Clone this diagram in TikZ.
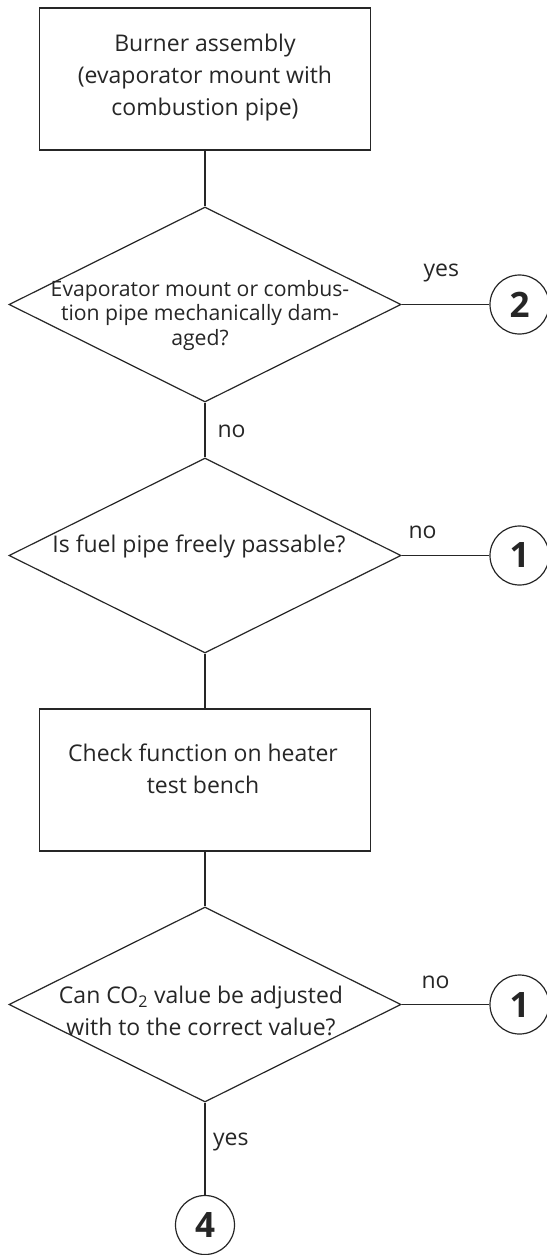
\documentclass[tikz,border=0pt]{standalone}
\usepackage{fontspec}
\setmainfont{Open Sans}
\usetikzlibrary{shapes.geometric}
\tikzset{
  stepbox/.style={draw, rectangle, minimum width=331pt, minimum height=142pt, inner sep=0pt},
  decision/.style={draw, diamond, minimum width=392pt, minimum height=195pt, inner sep=0pt},
  conn/.style={draw, circle, minimum size=59pt, inner sep=0pt, font=\fontsize{35}{35}\selectfont\bfseries},
  txt/.style={align=center, anchor=base, inner sep=0pt, font=\fontsize{23}{31.7}\selectfont},
  tighttxt/.style={txt, font=\fontsize{21.2}{24.2}\selectfont},
  lbl/.style={anchor=base west, inner sep=0pt, font=\fontsize{23}{23}\selectfont}
}
\begin{document}
\begin{tikzpicture}[x=1pt, y=-1pt, line width=1.2pt, color=black!85]
\useasboundingbox (0,0) rectangle (546,1255);
% boxes and decisions
\node[stepbox] (box1) at (205,79) {};
\node[txt] (box1t) at (205,115) {Burner assembly\\(evaporator mount with\\combustion pipe)};
\node[decision] (dec1) at (205,304.5) {};
\node[tighttxt] (dec1t) at (200,345) {Evaporator mount or combus-\\tion pipe mechanically dam-\\aged?};
\node[decision] (dec2) at (205,555.5) {};
\node[txt] (dec2t) at (199,552) {Is fuel pipe freely passable?};
\node[stepbox] (box2) at (205,780) {};
\node[txt] (box2t) at (203,793.5) {Check function on heater\\test bench};
\node[decision] (dec3) at (205,1004.5) {};
\node[txt] (dec3t) at (201,1035) {Can CO\textsubscript{2} value be adjusted\\with to the correct value?};
% connectors
\node[conn] (c2) at (519.5,304.5) {2};
\node[conn] (c1a) at (519.5,555.5) {1};
\node[conn] (c1b) at (519.5,1004.5) {1};
\node[conn] (c4) at (205,1225) {4};
\path[draw] (box1) -- (dec1);
\path[draw] (dec1) -- (dec2);
\path[draw] (dec2) -- (box2);
\path[draw] (box2) -- (dec3);
\path[draw] (dec3) -- (c4);
\path[draw] (dec1) -- (c2);
\path[draw] (dec2) -- (c1a);
\path[draw] (dec3) -- (c1b);
% labels
\node[lbl] (yes1) at (423,276) {yes};
\node[lbl] (no1) at (217,437) {no};
\node[lbl] (no2) at (408,538) {no};
\node[lbl] (no3) at (421,988) {no};
\node[lbl] (yes2) at (212.5,1145) {yes};
\end{tikzpicture}
\end{document}
